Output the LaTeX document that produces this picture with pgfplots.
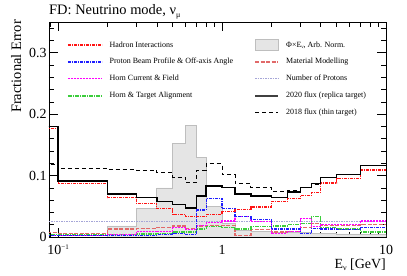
\documentclass[border=0pt]{standalone}
\usepackage{fontspec}
\setmainfont{Liberation Serif}
\usepackage{pgfplots}
\pgfplotsset{compat=1.18}
\definecolor{cred}{RGB}{255,20,20}
\definecolor{cblue}{RGB}{30,30,255}
\definecolor{cmag}{RGB}{255,0,255}
\definecolor{cgreen}{RGB}{60,205,60}
\definecolor{csalmon}{RGB}{225,105,105}
\definecolor{clav}{RGB}{165,165,215}
\definecolor{fluxfill}{RGB}{229,229,229}
\definecolor{fluxline}{RGB}{190,190,190}
\tikzset{
  sHad/.style={draw=cred, color=cred, line width=1.2bp, dash pattern=on 3bp off 1bp on 1bp off 1bp},
  sPro/.style={draw=cblue, color=cblue, line width=1.2bp, dash pattern=on 3bp off 1bp on 1bp off 1bp},
  sHorn/.style={draw=cmag, color=cmag, line width=1.2bp, dash pattern=on 2bp off 1bp},
  sAlign/.style={draw=cgreen, color=cgreen, line width=1.2bp, dash pattern=on 4bp off 1bp on 1bp off 1bp},
  sMat/.style={draw=csalmon, color=csalmon, line width=1.2bp, dash pattern=on 4bp off 1.5bp},
  sPOT/.style={draw=clav, color=clav, line width=0.7bp, dash pattern=on 1.5bp off 1bp},
  s2020/.style={draw=black, color=black, line width=1.4bp},
  s2018/.style={draw=black, color=black, line width=1bp, dash pattern=on 4bp off 3bp},
}
\pgfplotsset{
  legHad/.style={legend image code/.code={\draw[cred, line width=1.6bp, dash pattern=on 3bp off 1bp on 1bp off 1bp] (0bp,0bp) -- (34bp,0bp);}},
  legPro/.style={legend image code/.code={\draw[cblue, line width=1.6bp, dash pattern=on 3bp off 1bp on 1bp off 1bp] (0bp,0bp) -- (34bp,0bp);}},
  legAlign/.style={legend image code/.code={\draw[cgreen, line width=1.6bp, dash pattern=on 4bp off 1bp on 1bp off 1bp] (0bp,0bp) -- (34bp,0bp);}},
  legMat/.style={legend image code/.code={\draw[csalmon, line width=1.6bp, dash pattern=on 4bp off 1.5bp] (0bp,0bp) -- (23bp,0bp);}},
  legHorn/.style={legend image code/.code={\draw[cmag, line width=1.3bp, dash pattern=on 2bp off 1bp] (0bp,0bp) -- (34bp,0bp);}},
  legPOT/.style={legend image code/.code={\draw[clav, line width=0.8bp, dash pattern=on 1.5bp off 1bp] (0bp,0bp) -- (23bp,0bp);}},
  leg2020/.style={legend image code/.code={\draw[black!75, line width=2bp] (0bp,0bp) -- (23bp,0bp);}},
  leg2018/.style={legend image code/.code={\draw[black, line width=1.2bp, dash pattern=on 4bp off 3bp] (0bp,0bp) -- (23bp,0bp);}},
  legFlux/.style={legend image code/.code={\path (0bp,0bp) -- (23bp,0bp); \draw[overlay, fill=fluxfill, draw=fluxline, line width=0.7bp] (0bp,-5.5bp) rectangle (23bp,5.5bp);}},
}
\begin{document}
\begin{tikzpicture}
\useasboundingbox (0bp,0bp) rectangle (407bp,276bp);
\begin{axis}[
  at={(49bp,39bp)}, anchor=south west, scale only axis,
  width=337bp, height=215bp,
  xmode=log, xmin=0.088, xmax=10, ymin=0, ymax=0.35,
  xtick={0.1,1,10},
  xticklabels={10\raisebox{0.75ex}{\fontsize{7}{7}\selectfont −1},1,10},
  minor xtick={0.09,0.2,0.3,0.4,0.5,0.6,0.7,0.8,0.9,2,3,4,5,6,7,8,9},
  ytick={0,0.1,0.2,0.3}, yticklabels={0,0.1,0.2,0.3},
  minor ytick={0.02,0.04,0.06,0.08,0.12,0.14,0.16,0.18,0.22,0.24,0.26,0.28,0.32,0.34},
  tick pos=both, tick align=inside,
  major tick length=9bp, minor tick length=5bp,
  every tick/.style={black, line width=0.6bp},
  axis line style={line width=0.8bp},
  ticklabel style={font=\fontsize{14}{14}\selectfont},
  yticklabel style={anchor=east, inner sep=0pt, xshift=-2.3bp},
  xticklabel style={anchor=base, inner sep=0pt, yshift=-17bp},
  legend columns=2, legend cell align=left,
  legend style={at={(0.0534,0.9116)}, anchor=north west, draw=none, fill=none,
    inner sep=0pt, outer sep=0pt, font=\fontsize{8}{8}\selectfont, row sep=8.9bp,
    nodes={inner sep=0pt, text height=6bp, text depth=2bp},
    /tikz/every odd column/.style={column sep=7bp},
    /tikz/every even column/.style={column sep=21bp}},
]
% flux shape (arbitrary normalisation)
\addplot[const plot, fill=fluxfill, draw=fluxline, line width=0.7bp, forget plot] coordinates {
(0.05,0) (0.1,0) (0.2,0.018) (0.3,0.046) (0.4,0.080) (0.5,0.153) (0.6,0.181) (0.7,0.130)
(0.8,0.050) (1.0,0.022) (1.2,0.011) (1.5,0.009) (2.0,0.008) (2.5,0.007) (3.0,0.007)
(3.5,0.006) (4.0,0.006) (5.0,0.005) (7.0,0.004) (10,0.004)} \closedcycle;
% number of protons
\addplot[const plot, sPOT, forget plot] coordinates {(0.05,0.026) (10,0.026)};
% material modelling
\addplot[const plot, sMat, forget plot] coordinates {
(0.05,0.007) (0.1,0.006) (0.2,0.013) (0.3,0.014) (0.4,0.016) (0.5,0.018) (0.6,0.014) (0.7,0.018)
(0.8,0.019) (1.0,0.019) (1.2,0.003) (1.5,0.012) (2.0,0.008) (2.5,0.009) (3.0,0.015)
(3.5,0.022) (4.0,0.019) (5.0,0.019) (7.0,0.020) (10,0.020)};
% horn & target alignment
\addplot[const plot, sAlign, forget plot] coordinates {
(0.05,0.004) (0.1,0.004) (0.2,0.004) (0.3,0.005) (0.4,0.006) (0.5,0.008) (0.6,0.008) (0.7,0.013)
(0.8,0.017) (1.0,0.015) (1.2,0.013) (1.5,0.017) (2.0,0.018) (2.5,0.020) (3.0,0.022)
(3.5,0.033) (4.0,0.015) (5.0,0.013) (7.0,0.008) (10,0.008)};
% horn current & field
\addplot[const plot, sHorn, forget plot] coordinates {
(0.05,0.002) (0.1,0.003) (0.2,0.004) (0.3,0.0087) (0.4,0.009) (0.5,0.015) (0.6,0.012) (0.7,0.019)
(0.8,0.024) (1.0,0.026) (1.2,0.033) (1.5,0.025) (2.0,0.006) (2.5,0.009) (3.0,0.030)
(3.5,0.017) (4.0,0.021) (5.0,0.021) (7.0,0.026) (10,0.026)};
% proton beam profile
\addplot[const plot, sPro, forget plot] coordinates {
(0.05,0.002) (0.1,0.002) (0.2,0.002) (0.3,0.003) (0.4,0.004) (0.5,0.006) (0.6,0.004) (0.7,0.044)
(0.8,0.063) (1.0,0.046) (1.2,0.033) (1.5,0.028) (2.0,0.013) (2.5,0.013) (3.0,0.006)
(3.5,0.014) (4.0,0.013) (5.0,0.012) (7.0,0.015) (10,0.015)};
% hadron interactions
\addplot[const plot, sHad, forget plot] coordinates {
(0.05,0.177) (0.1,0.087) (0.2,0.064) (0.3,0.055) (0.4,0.046) (0.5,0.036) (0.6,0.033) (0.7,0.034)
(0.8,0.036) (1.0,0.041) (1.2,0.045) (1.5,0.049) (2.0,0.058) (2.5,0.063) (3.0,0.068)
(3.5,0.072) (4.0,0.088) (5.0,0.095) (7.0,0.109) (10,0.109)};
% 2018 flux
\addplot[const plot, s2018, forget plot] coordinates {
(0.05,0.1185) (0.1,0.112) (0.2,0.110) (0.3,0.109) (0.4,0.105) (0.5,0.097) (0.6,0.0886) (0.7,0.108)
(0.8,0.119) (1.0,0.102) (1.2,0.087) (1.5,0.080) (2.0,0.074) (2.5,0.075) (3.0,0.080)
(3.5,0.086) (4.0,0.097) (5.0,0.101) (7.0,0.116) (10,0.116)};
% 2020 flux
\addplot[const plot, s2020, forget plot] coordinates {
(0.05,0.180) (0.1,0.091) (0.2,0.070) (0.3,0.064) (0.4,0.0576) (0.5,0.053) (0.6,0.047) (0.7,0.067)
(0.8,0.083) (1.0,0.081) (1.2,0.070) (1.5,0.067) (2.0,0.064) (2.5,0.073) (3.0,0.081)
(3.5,0.087) (4.0,0.097) (5.0,0.102) (7.0,0.116) (10,0.116)};
% legend
\addlegendimage{legHad}
\addlegendentry{Hadron Interactions}
\addlegendimage{legFlux}
\addlegendentry{Φ×E\raisebox{-0.3ex}{\fontsize{5}{5}\selectfont ν}, Arb. Norm.}
\addlegendimage{legPro}
\addlegendentry{Proton Beam Profile \& Off-axis Angle}
\addlegendimage{legMat}
\addlegendentry{Material Modelling}
\addlegendimage{legHorn}
\addlegendentry{Horn Current \& Field}
\addlegendimage{legPOT}
\addlegendentry{Number of Protons}
\addlegendimage{legAlign}
\addlegendentry{Horn \& Target Alignment}
\addlegendimage{leg2020}
\addlegendentry{2020 flux (replica target)}
\addlegendimage{empty legend}
\addlegendentry{}
\addlegendimage{leg2018}
\addlegendentry{2018 flux (thin target)}
\end{axis}
\node[anchor=base west, inner sep=0pt, font=\fontsize{14.5}{14.5}\selectfont] at (49bp,261bp) {FD: Neutrino mode, ν\raisebox{-0.45ex}{\fontsize{8}{8}\selectfont μ}};
\node[rotate=90, anchor=base east, inner sep=0pt, font=\fontsize{14.5}{14.5}\selectfont] at (21bp,256bp) {Fractional Error};
\node[anchor=base east, inner sep=0pt, font=\fontsize{14}{14}\selectfont] at (386bp,8bp) {E\raisebox{-0.4ex}{\fontsize{8}{8}\selectfont ν} [GeV]};
\end{tikzpicture}
\end{document}
